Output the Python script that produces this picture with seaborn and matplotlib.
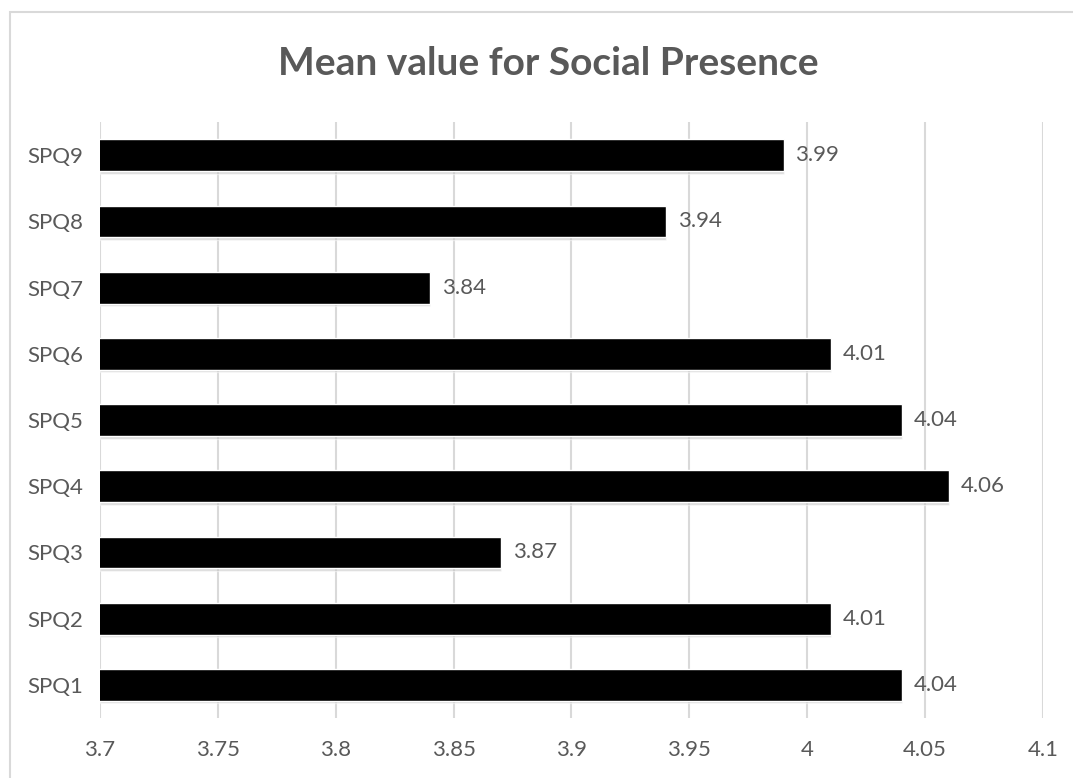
import seaborn as sns
import matplotlib.pyplot as plt
import pandas as pd
from matplotlib.patches import Rectangle

# data
items = ['SPQ9', 'SPQ8', 'SPQ7', 'SPQ6', 'SPQ5', 'SPQ4', 'SPQ3', 'SPQ2', 'SPQ1']
means = [3.99, 3.94, 3.84, 4.01, 4.04, 4.06, 3.87, 4.01, 4.04]
xticks = [3.7, 3.75, 3.8, 3.85, 3.9, 3.95, 4.0, 4.05, 4.1]
xtick_labels = ['3.7', '3.75', '3.8', '3.85', '3.9', '3.95', '4', '4.05', '4.1']

df = pd.DataFrame({'item': items, 'mean': means})

sns.set_style('white')
plt.rcParams['font.family'] = ['Lato', 'DejaVu Sans']
grey = '#595959'

fig = plt.figure(figsize=(10.73, 7.78), dpi=100)
ax = fig.add_axes([0.0932, 0.0771, 0.8788, 0.7659])

# outer chart border
fig.patches.append(Rectangle((10 / 1073, -0.05), 1.2, 1 - 12 / 778 + 0.05,
                             transform=fig.transFigure, fill=False,
                             edgecolor='#d9d9d9', linewidth=1.5))

# shadow under bars
ax.barh([i + 0.04 for i in range(len(items))], [m - 3.7 for m in means], left=3.7,
        height=0.48, color='#bbbbbb', alpha=0.5, zorder=1)
sns.barplot(data=df, y='item', x='mean', orient='h', color='black',
            width=0.48, ax=ax, zorder=2, saturation=1)

ax.set_xlim(3.7, 4.1)
ax.set_ylim(8.5, -0.5)
ax.set_xticks(xticks)
ax.set_xticklabels(xtick_labels)
ax.xaxis.grid(True, color='#d9d9d9', linewidth=1.5)
ax.set_axisbelow(True)
for s in ax.spines.values():
    s.set_visible(False)
ax.tick_params(axis='both', length=0, labelsize=16, colors=grey)
ax.tick_params(axis='x', pad=16)
ax.tick_params(axis='y', pad=12)
ax.set_xlabel('')
ax.set_ylabel('')

for i, m in enumerate(means):
    ax.text(m + 0.005, i, f'{m:.2f}', va='center', ha='left',
            fontsize=16, color=grey)

fig.text(0.511, 0.918, 'Mean value for Social Presence', ha='center', va='center',
         fontsize=28, fontweight='bold', color=grey)

fig.savefig('out.png', dpi=100, facecolor='white')
